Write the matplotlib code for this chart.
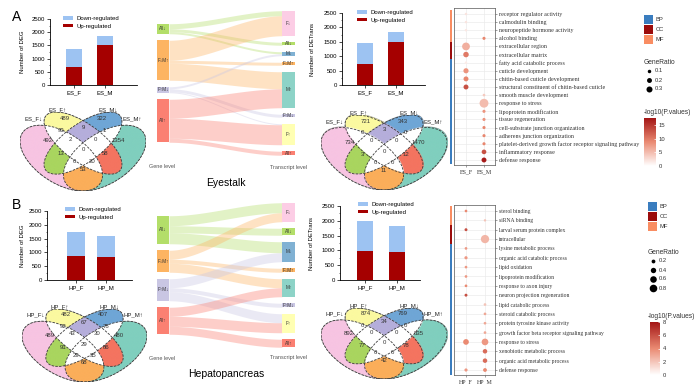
import numpy as np
import matplotlib
matplotlib.use('Agg')
import matplotlib.pyplot as plt
from matplotlib.patches import Ellipse, Rectangle
from matplotlib.lines import Line2D
from matplotlib.colors import LinearSegmentedColormap, Normalize, to_rgba
from matplotlib.cm import ScalarMappable
from matplotlib.ticker import MultipleLocator

plt.rcParams['font.family'] = ['Liberation Sans', 'DejaVu Sans']
SERIF = ['Liberation Serif', 'DejaVu Serif']

#%% data
# stacked bars: number of DEG / DETrans
es_groups = ['ES_F', 'ES_M']
hp_groups = ['HP_F', 'HP_M']
es_deg_up = [680, 1500]
es_deg_down = [670, 350]
es_det_up = [730, 1490]
es_det_down = [740, 350]
hp_deg_up = [860, 830]
hp_deg_down = [880, 780]
hp_det_up = [980, 950]
hp_det_down = [1010, 880]

# venn counts, A=F down, B=F up, C=M down, D=M up
venn_regions = ['A', 'B', 'C', 'D', 'AB', 'BC', 'CD', 'ABC', 'BCD', 'ABCD',
                'AC', 'BD', 'ACD', 'ABD', 'AD']
es_deg_venn = [492, 489, 322, 1354, 93, 9, 1, 2, 0, 0, 13, 58, 0, 20, 53]
es_det_venn = [734, 721, 343, 1470, 0, 3, 0, 0, 0, 0, 3, 12, 0, 0, 11]
hp_deg_venn = [489, 482, 407, 480, 92, 67, 78, 43, 30, 29, 91, 86, 29, 35, 68]
hp_det_venn = [892, 874, 769, 835, 0, 34, 0, 0, 0, 0, 77, 78, 0, 0, 42]
es_sets = ['ES_F↓', 'ES_F↑', 'ES_M↓', 'ES_M↑']
hp_sets = ['HP_F↓', 'HP_F↑', 'HP_M↓', 'HP_M↑']

# sankey gene level -> transcript level
gene_nodes = ['All↓', 'F↓M↑', 'F↑M↓', 'All↑']
trans_nodes = ['F↓', 'All↓', 'M↓', 'F↓M↑', 'M↑', 'F↑M↓', 'F↑', 'All↑']
flow_src = ['All↓', 'All↓', 'All↓', 'F↓M↑', 'F↓M↑', 'F↓M↑',
            'F↑M↓', 'F↑M↓', 'F↑M↓', 'All↑', 'All↑', 'All↑']
flow_tgt = ['F↓', 'All↓', 'M↓', 'F↓', 'F↓M↑', 'M↑',
            'M↓', 'F↑M↓', 'F↑', 'M↑', 'F↑', 'All↑']
es_flow = [5, 3, 2, 20, 3, 17, 2, 3, 1, 19, 20, 4]
hp_flow = [10, 7, 11, 9, 4, 9, 9, 4, 9, 9, 10, 8]

# GO bubble plots
es_terms = ['receptor regulator activity', 'calmodulin binding',
            'neuropeptide hormone activity', 'alcohol binding',
            'extracellular region', 'extracellular matrix',
            'fatty acid catabolic process', 'cuticle development',
            'chitin-based cuticle development',
            'structural constituent of chitin-based cuticle',
            'smooth muscle development', 'response to stress',
            'lipoprotein modification', 'tissue regeneration',
            'cell-substrate junction organization',
            'adherens junction organization',
            'platelet-derived growth factor receptor signaling pathway',
            'inflammatory response', 'defense response']
es_cats = ['MF', 'MF', 'MF', 'MF', 'CC', 'CC', 'BP', 'BP', 'BP', 'BP',
           'BP', 'BP', 'BP', 'BP', 'BP', 'BP', 'BP', 'BP', 'BP']
es_dot_group = ['ES_F', 'ES_F', 'ES_F', 'ES_M', 'ES_F', 'ES_F', 'ES_F', 'ES_F',
                'ES_F', 'ES_F', 'ES_M', 'ES_M', 'ES_M', 'ES_M', 'ES_M', 'ES_M',
                'ES_M', 'ES_M', 'ES_M']
es_dot_ratio = [0.05, 0.05, 0.05, 0.08, 0.5, 0.25, 0.05, 0.22, 0.2, 0.2,
                0.06, 0.65, 0.08, 0.08, 0.08, 0.08, 0.08, 0.18, 0.2]
es_dot_logp = [2, 2, 1.8, 9, 6, 10, 1.5, 8, 9, 13,
               4, 5, 8, 8, 9, 9, 9, 13, 17]

hp_terms = ['sterol binding', 'siRNA binding', 'larval serum protein complex',
            'intracellular', 'lysine metabolic process',
            'organic acid catabolic process', 'lipid oxidation',
            'lipoprotein modification', 'response to axon injury',
            'neuron projection regeneration', 'lipid catabolic process',
            'steroid catabolic process', 'protein tyrosine kinase activity',
            'growth factor beta receptor signaling pathway',
            'response to stress', 'xenobiotic metabolic process',
            'organic acid metabolic process', 'defense response']
hp_cats = ['MF', 'MF', 'CC', 'CC', 'BP', 'BP', 'BP', 'BP', 'BP', 'BP',
           'BP', 'BP', 'BP', 'BP', 'BP', 'BP', 'BP', 'BP']
hp_dot_term = ['sterol binding', 'siRNA binding', 'larval serum protein complex',
               'intracellular', 'lysine metabolic process',
               'organic acid catabolic process', 'lipid oxidation',
               'lipoprotein modification', 'response to axon injury',
               'neuron projection regeneration', 'lipid catabolic process',
               'steroid catabolic process', 'protein tyrosine kinase activity',
               'growth factor beta receptor signaling pathway',
               'response to stress', 'response to stress',
               'xenobiotic metabolic process', 'organic acid metabolic process',
               'defense response', 'defense response']
hp_dot_group = ['HP_F', 'HP_M', 'HP_F', 'HP_M', 'HP_F', 'HP_F', 'HP_F', 'HP_F',
                'HP_F', 'HP_F', 'HP_M', 'HP_M', 'HP_M', 'HP_M', 'HP_F', 'HP_M',
                'HP_M', 'HP_M', 'HP_F', 'HP_M']
hp_dot_ratio = [0.1, 0.08, 0.12, 0.95, 0.1, 0.14, 0.1, 0.1, 0.1, 0.12,
                0.1, 0.1, 0.1, 0.1, 0.45, 0.62, 0.28, 0.28, 0.14, 0.2]
hp_dot_logp = [4, 2, 6, 2.5, 3.5, 3.5, 3.5, 3.5, 4, 6,
               2, 3, 3, 3, 4, 3.5, 5, 5, 3.5, 4]

#%% figure helpers
W, H = 695, 384
fig = plt.figure(figsize=(W / 100, H / 100), dpi=100)


def px_axes(l, t, r, b):
    return fig.add_axes([l / W, 1 - b / H, (r - l) / W, (b - t) / H])


def fig_text(x, y, s, **kw):
    fig.text(x / W, 1 - y / H, s, **kw)


def fig_rect(l, t, r, b, color):
    fig.add_artist(Rectangle((l / W, 1 - b / H), (r - l) / W, (b - t) / H,
                             transform=fig.transFigure, color=color, lw=0))


#%% stacked bar charts
UP_C = '#A50000'
DOWN_C = '#9DC3F2'


def bar_panel(l, t, r, b, c0, c1, bw, groups, up, down, ylabel, ylab_x, leg_x, leg_y):
    ax = px_axes(l, t, r, b)
    sp = c1 - c0
    x = np.arange(len(groups))
    ax.bar(x, up, width=bw / sp, color=UP_C, label='Up-regulated')
    ax.bar(x, down, bottom=up, width=bw / sp, color=DOWN_C, label='Down-regulated')
    ax.set_xlim((l - c0) / sp, (r - c0) / sp)
    ax.set_ylim(0, 2500)
    ax.yaxis.set_major_locator(MultipleLocator(500))
    ax.yaxis.set_minor_locator(MultipleLocator(250))
    ax.set_xticks(x, groups)
    for s in ['top', 'right']:
        ax.spines[s].set_visible(False)
    for s in ['left', 'bottom']:
        ax.spines[s].set_linewidth(0.6)
    ax.tick_params(labelsize=4.3, length=2, width=0.5, pad=1.5)
    ax.tick_params(which='minor', length=1, width=0.4)
    ax.set_ylabel(ylabel, fontsize=4.3)
    ax.yaxis.set_label_coords((ylab_x - l) / (r - l), 0.5)
    h, lb = ax.get_legend_handles_labels()
    ax.legend(h[::-1], lb[::-1], loc='upper left',
              bbox_to_anchor=(leg_x / W, 1 - leg_y / H), bbox_transform=fig.transFigure,
              frameon=False, fontsize=4.3, handlelength=1.6, handleheight=0.5,
              handletextpad=0.6, labelspacing=0.45, borderpad=0, borderaxespad=0)


bar_panel(50, 19, 137, 85, 74, 105, 16, es_groups, es_deg_up, es_deg_down,
          'Number of DEG', 25, 63, 16)
bar_panel(342, 13, 425, 85, 365, 395.5, 16, es_groups, es_det_up, es_det_down,
          'Number of DETrans', 315, 357, 10)
bar_panel(47, 211, 132, 280, 76, 105.5, 18, hp_groups, hp_deg_up, hp_deg_down,
          'Number of DEG', 25, 65, 207)
bar_panel(340, 206, 420, 280, 365, 396.5, 16, hp_groups, hp_det_up, hp_det_down,
          'Number of DETrans', 314, 358, 202)

#%% venn diagrams (4 ellipses)
ELLIPSES = [(0.35, 0.47, 0.35, 0.2, -45), (0.5, 0.6, 0.35, 0.15, -45),
            (0.5, 0.6, 0.35, 0.15, 45), (0.65, 0.47, 0.35, 0.2, 45)]
REGION_COL = {1: '#F7C4E2', 2: '#FBF9A0', 4: '#6FA6D6', 8: '#80CFBE',
              6: '#B5AEDB', 5: '#A9D55F', 10: '#F47460', 9: '#FBAE5A'}
VENN_XY = [(0.26, 0.622), (0.372, 0.813), (0.628, 0.813), (0.74, 0.622),
           (0.35, 0.705), (0.5, 0.739), (0.65, 0.705), (0.413, 0.635),
           (0.587, 0.635), (0.5, 0.54), (0.35, 0.51), (0.65, 0.51),
           (0.44, 0.437), (0.56, 0.437), (0.5, 0.367)]
SET_XY = [(0.16, 0.81), (0.325, 0.89), (0.675, 0.89), (0.84, 0.81)]
XL, XR, YB, YT = 0.065, 0.935, 0.185, 0.869


def venn_panel(l, t, r, b, names, counts):
    ax = px_axes(l, t, r, b)
    ax.set_xlim(XL, XR)
    ax.set_ylim(YB, YT)
    ax.axis('off')
    gx, gy = np.meshgrid(np.linspace(XL, XR, 600), np.linspace(YB, YT, 460))
    code = np.zeros(gx.shape, dtype=int)
    for i, (cx, cy, a, bb, ang) in enumerate(ELLIPSES):
        th = np.deg2rad(ang)
        dx, dy = gx - cx, gy - cy
        u = dx * np.cos(th) + dy * np.sin(th)
        v = -dx * np.sin(th) + dy * np.cos(th)
        code += ((u / a) ** 2 + (v / bb) ** 2 <= 1).astype(int) << i
    img = np.zeros(gx.shape + (4,))
    img[code > 0] = (1, 1, 1, 1)
    for k, c in REGION_COL.items():
        img[code == k] = to_rgba(c)
    ax.imshow(img, extent=(XL, XR, YB, YT), origin='lower', aspect='auto')
    for cx, cy, a, bb, ang in ELLIPSES:
        ax.add_patch(Ellipse((cx, cy), 2 * a, 2 * bb, angle=ang, fill=False,
                             ec='#3a3a3a', lw=0.6, ls=(0, (3, 1.5))))
    for (x, y), n in zip(VENN_XY, counts):
        ax.text(x, y, str(n), ha='center', va='center', fontsize=4.3, color='#333333')
    for (x, y), s in zip(SET_XY, names):
        ax.text(x, y, s, ha='center', va='center', fontsize=4.3, color='#222222',
                clip_on=False)


venn_panel(20, 112, 146, 191, es_sets, es_deg_venn)
venn_panel(321, 115, 447, 190, es_sets, es_det_venn)
venn_panel(22, 309, 147, 382, hp_sets, hp_deg_venn)
venn_panel(321, 308, 447, 379, hp_sets, hp_det_venn)

#%% sankey
NODE_COL = {'All↓': '#B3DE69', 'F↓M↑': '#FDB462', 'F↑M↓': '#C9C6E3', 'All↑': '#FB8072',
            'F↓': '#FCCDE5', 'M↓': '#80B1D3', 'M↑': '#8DD3C7', 'F↑': '#FFFFB3'}


def sankey_panel(t, b, vals, center, title):
    ax = px_axes(148, t, 310, b)
    ax.set_xlim(148, 310)
    ax.set_ylim(b, t)
    ax.axis('off')
    gap = 6.5
    xl0, xl1, xr0, xr1 = 157, 169, 282, 295

    def stack(nodes, side):
        size = {n: sum(v for s, tg, v in zip(flow_src, flow_tgt, vals)
                       if (s if side == 0 else tg) == n) for n in nodes}
        total = sum(size.values()) + gap * (len(nodes) - 1)
        y = center - total / 2
        pos = {}
        for n in nodes:
            pos[n] = y
            y += size[n] + gap
        return pos, size

    lpos, lsize = stack(gene_nodes, 0)
    rpos, rsize = stack(trans_nodes, 1)
    loff = dict(lpos)
    roff = dict(rpos)
    order = sorted(range(len(vals)), key=lambda i: (gene_nodes.index(flow_src[i]),
                                                    trans_nodes.index(flow_tgt[i])))
    ystart = {}
    for i in order:
        ystart[i] = loff[flow_src[i]]
        loff[flow_src[i]] += vals[i]
    order_r = sorted(range(len(vals)), key=lambda i: (trans_nodes.index(flow_tgt[i]),
                                                      gene_nodes.index(flow_src[i])))
    yend = {}
    for i in order_r:
        yend[i] = roff[flow_tgt[i]]
        roff[flow_tgt[i]] += vals[i]
    xs = np.linspace(xl1, xr0, 80)
    tt = (xs - xl1) / (xr0 - xl1)
    sm = tt * tt * (3 - 2 * tt)
    for i in range(len(vals)):
        y0 = ystart[i] + (yend[i] - ystart[i]) * sm
        ax.fill_between(xs, y0, y0 + vals[i], color=NODE_COL[flow_src[i]],
                        alpha=0.38, lw=0)
    for n in gene_nodes:
        ax.add_patch(Rectangle((xl0, lpos[n]), xl1 - xl0, lsize[n],
                               color=NODE_COL[n], lw=0))
        ax.text((xl0 + xl1) / 2, lpos[n] + lsize[n] / 2, n, ha='center',
                va='center', fontsize=3.3, color='#333333')
    for n in trans_nodes:
        ax.add_patch(Rectangle((xr0, rpos[n]), xr1 - xr0, rsize[n],
                               color=NODE_COL[n], lw=0))
        ax.text((xr0 + xr1) / 2, rpos[n] + rsize[n] / 2, n, ha='center',
                va='center', fontsize=3.3, color='#333333')
    ax.text(162, t + 167, 'Gene level', ha='center', va='center',
            fontsize=4, color='#555555')
    ax.text(288, t + 167, 'Transcript level', ha='center', va='center',
            fontsize=4, color='#555555')
    ax.text(226, t + 183, title, ha='center', va='center', fontsize=7.5)


sankey_panel(0, 192, es_flow, 83, 'Eyestalk')
sankey_panel(191, 383, hp_flow, 275, 'Hepatopancreas')

#%% GO bubble plots
CAT_COL = {'BP': '#3A7DBF', 'CC': '#9B0C0C', 'MF': '#F98D62'}
cmap = LinearSegmentedColormap.from_list('wr', ['#FFFFFF', '#EA8A72', '#A31515'])


def bubble_panel(box, row0, row1, col0, col1, terms, cats, dot_term, dot_group,
                 dot_ratio, dot_logp, groups, vmax, ksize, fs):
    l, t, r, b = box
    ax = px_axes(l, t, r, b)
    n = len(terms)
    rs = (row1 - row0) / (n - 1)
    cs = col1 - col0
    ylim = ((t - row0) / rs, (n - 1) + (b - row1) / rs)
    ax.set_ylim(ylim[1], ylim[0])
    ax.set_xlim((l - col0) / cs, 1 + (r - col1) / cs)
    yy = [terms.index(s) for s in dot_term]
    xx = [groups.index(g) for g in dot_group]
    d = ksize * np.sqrt(np.array(dot_ratio))
    ax.scatter(xx, yy, s=(d * 0.72) ** 2, c=dot_logp, cmap=cmap, vmin=0, vmax=vmax,
               lw=0, zorder=3)
    ax.set_yticks(range(n), terms)
    ax.set_xticks(range(len(groups)), groups)
    ax.yaxis.tick_right()
    ax.grid(color='#ebebeb', lw=0.5)
    ax.set_axisbelow(True)
    for s in ax.spines.values():
        s.set_linewidth(0.5)
        s.set_color('#555555')
    ax.tick_params(length=1.5, width=0.4, color='#555555', pad=1.5)
    for tl in ax.get_yticklabels():
        tl.set_fontfamily(SERIF)
        tl.set_fontsize(fs)
        tl.set_color('#333333')
    for tl in ax.get_xticklabels():
        tl.set_fontfamily(SERIF)
        tl.set_fontsize(4.3)
        tl.set_color('#333333')
    # category strip
    cax = px_axes(l - 4.5, t, l - 2, b)
    cax.set_ylim(ylim[1], ylim[0])
    cax.set_xlim(0, 1)
    cax.barh(range(n), 1, height=1.0, color=[CAT_COL[c] for c in cats], lw=0)
    cax.axis('off')


def bubble_legend(x, y_cat, y_size, y_cb, cb_box, sizes, ksize, vmax, ticks):
    for i, c in enumerate(['BP', 'CC', 'MF']):
        top = y_cat + i * 10
        fig_rect(x, top, x + 9, top + 9, CAT_COL[c])
        fig_text(x + 12, top + 4.5, c, fontsize=4.2, va='center', color='#333333')
    fig_text(x, y_size, 'GeneRatio', fontsize=4.8, va='center', color='#333333')
    for i, s in enumerate(sizes):
        yy = y_size + 9 + i * 9
        fig.add_artist(Line2D([(x + 5) / W], [1 - yy / H], marker='o', ls='',
                              ms=ksize * np.sqrt(s) * 0.72, color='black', mew=0,
                              transform=fig.transFigure))
        fig_text(x + 11, yy, f'{s:g}', fontsize=4.2, va='center', color='#333333')
    fig_text(x, y_cb, '-log10(P.values)', fontsize=4.8, va='center', color='#333333')
    cbax = px_axes(*cb_box)
    cb = fig.colorbar(ScalarMappable(Normalize(0, vmax), cmap), cax=cbax, ticks=ticks)
    cb.outline.set_visible(False)
    cbax.tick_params(labelsize=4.2, length=1.5, width=0.5, color='white',
                     labelcolor='#333333', pad=2, direction='in')


bubble_panel((454, 8, 495, 165), 14, 160, 466, 484, es_terms, es_cats, es_terms,
             es_dot_group, es_dot_ratio, es_dot_logp, es_groups, 17.5, 11, 4.35)
bubble_legend(644, 15, 62, 112, (644, 118, 656, 166), [0.1, 0.2, 0.3], 11, 17.5,
              [0, 5, 10, 15])
bubble_panel((454, 205, 495, 375), 211, 370, 466, 485, hp_terms, hp_cats, hp_dot_term,
             hp_dot_group, hp_dot_ratio, hp_dot_logp, hp_groups, 8, 8.5, 4.1)
bubble_legend(648, 202, 252, 317, (650, 322, 660, 375), [0.2, 0.4, 0.6, 0.8], 8.5, 8,
              [0, 2, 4, 6, 8])

#%% panel letters
fig_text(12, 17, 'A', fontsize=10, va='center')
fig_text(12, 205, 'B', fontsize=10, va='center')

fig.savefig('out.png', dpi=100)
